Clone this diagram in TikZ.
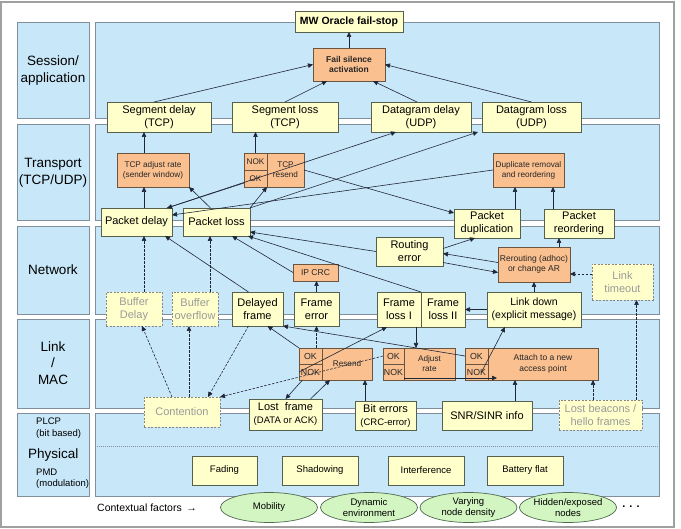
\documentclass[tikz,border=0pt]{standalone}
\usepackage{fontspec}
\setmainfont{Liberation Sans}
\usetikzlibrary{positioning,arrows.meta,shapes.geometric}

\definecolor{layerblue}{HTML}{C8E7F8}
\definecolor{layerline}{HTML}{7F8F9C}
\definecolor{boxyellow}{HTML}{FFFFCC}
\definecolor{boxline}{HTML}{55604F}
\definecolor{actorange}{HTML}{FAC090}
\definecolor{actline}{HTML}{6B5540}
\definecolor{ghostline}{HTML}{858585}
\definecolor{ghosttext}{HTML}{9A9A9A}
\definecolor{factorgreen}{HTML}{D2F5C2}
\definecolor{factorline}{HTML}{4F6A4F}
\definecolor{arrowline}{HTML}{1E2636}
\definecolor{framegray}{HTML}{A0A0A0}

\newcommand{\boxfont}{\fontsize{11}{13}\selectfont}
\newcommand{\actfont}{\fontsize{8.2}{10}\selectfont}
\newcommand{\cellfont}{\fontsize{8.8}{10}\selectfont}
\newcommand{\layerfont}{\fontsize{13.5}{16.5}\selectfont}
\newcommand{\physfont}{\fontsize{9.5}{11.5}\selectfont}

\begin{document}
\begin{tikzpicture}[
    x=1pt, y=-1pt,
    wh/.style 2 args={minimum width=#1, minimum height=#2},
    box/.style={
        draw=boxline,
        fill=boxyellow,
        rectangle,
        line width=0.7pt,
        inner sep=0pt,
        outer sep=0pt,
        align=center,
        font=\boxfont
    },
    act/.style={box, draw=actline, fill=actorange, text=black!85, font=\actfont},
    cell/.style={act, wh={23}{16}, font=\cellfont},
    ghost/.style={box, draw=ghostline, dash pattern=on 2pt off 1.5pt, text=ghosttext},
    factor/.style={
        ellipse,
        draw=factorline,
        fill=factorgreen,
        line width=0.7pt,
        minimum width=97,
        minimum height=30,
        inner sep=0pt,
        align=center,
        font=\physfont
    },
    layer/.style={draw=layerline, fill=layerblue, line width=0.8pt},
    layername/.style={align=center, inner sep=0pt, font=\layerfont},
    arrow/.style={-{Triangle[length=5pt,width=4.5pt]}, draw=arrowline, line width=0.6pt},
    dasharrow/.style={arrow, dash pattern=on 2.5pt off 1.5pt}
]

\useasboundingbox (0,0) rectangle (681,529);
\draw[framegray, line width=1.2pt] (1,2) rectangle (674,527);

% layers
\foreach \ya/\yb in {22/118, 124/220, 226/314, 319/408, 413/496} {
    \draw[layer] (17,\ya) rectangle (89,\yb);
    \draw[layer] (95,\ya) rectangle (659,\yb);
}
\draw[layerline, dash pattern=on 1pt off 1pt] (95,446) -- (659,446);

\node[layername] (lsess) at (53,70.5) {Session/\\application};
\node[layername] (ltrans) at (53,173) {Transport\\(TCP/UDP)};
\node[layername] (lnet) at (53,270) {Network};
\node[layername] (llink) at (53,363) {Link\\/\\MAC};
\node[anchor=west, align=left, inner sep=0pt, font=\physfont] (lplcp) at (36,428) {PLCP\\(bit based)};
\node[anchor=west, inner sep=0pt, font=\layerfont] (lphys) at (28,455) {Physical};
\node[anchor=west, align=left, inner sep=0pt, font=\physfont] (lpmd) at (36,478.5) {PMD\\(modulation)};

% session
\node[box, wh={108}{21}, font=\bfseries\fontsize{10.5}{12}\selectfont] (oracle) at (349,21.5) {MW Oracle fail-stop};
\node[act, wh={72}{33}, font=\bfseries\fontsize{8.5}{10}\selectfont] (fsa) at (349,64.5) {Fail silence\\activation};
\node[box, wh={104}{30}] (segdelay) at (159,117) {Segment delay\\(TCP)};
\node[box, wh={106}{30}] (segloss) at (285,117) {Segment loss\\(TCP)};
\node[box, wh={100}{30}] (dgdelay) at (421,117) {Datagram delay\\(UDP)};
\node[box, wh={99}{30}] (dgloss) at (531.5,117) {Datagram loss\\(UDP)};

% transport
\node[act, wh={72}{34}] (tcpadj) at (153,170) {TCP adjust rate\\(sender window)};
\node[act, wh={37}{34}] (tcpresend) at (285.5,170) {TCP\\resend};
\node[cell, wh={23}{17}, font=\actfont, anchor=south east] (trnok) at (tcpresend.west) {NOK};
\node[cell, wh={23}{17}, font=\actfont, anchor=north east] (trok) at (tcpresend.west) {OK};
\node[act, wh={71}{34}] (dupl) at (528.5,170) {Duplicate removal\\and reordering};
\node[box, wh={71}{28}] (pdelay) at (136.5,222) {Packet delay};
\node[box, wh={67}{28}] (ploss) at (216.5,222) {Packet loss};
\node[box, wh={66}{29}] (pdup) at (487,223.5) {Packet\\duplication};
\node[box, wh={70}{29}] (preord) at (579,223.5) {Packet\\reordering};

% network
\node[box, wh={67}{29}] (routerr) at (409.5,251.5) {Routing\\error};
\node[act, wh={72}{35}, font=\fontsize{8.5}{10.5}\selectfont] (rerout) at (534,264.5) {Rerouting (adhoc)\\or change AR};
\node[ghost, wh={61}{36}] (linkto) at (622.5,282) {Link\\timeout};
\node[act, wh={45}{17}, font=\fontsize{8.5}{10}\selectfont] (ipcrc) at (315.5,272.5) {IP CRC};
\node[ghost, wh={56}{34}] (bufdelay) at (134,309) {Buffer\\Delay};
\node[ghost, wh={46}{34}] (bufover) at (195,309) {Buffer\\overflow};
\node[box, wh={51}{34}] (delframe) at (257.5,309) {Delayed\\frame};
\node[box, wh={45}{34}] (frerr) at (316.5,309) {Frame\\error};
\node[box, wh={44}{35}] (floss1) at (399,309.5) {Frame\\loss I};
\node[box, wh={44}{35}, right=0pt of floss1] (floss2) {Frame\\loss II};
\node[box, wh={94}{35}, font=\fontsize{10.5}{12.5}\selectfont] (linkdown) at (534,309.5) {Link down\\(explicit message)};

% link
\node[act, wh={50}{32}] (resend) at (347,364) {Resend};
\node[cell, anchor=south east] (rsok) at (resend.west) {OK};
\node[cell, anchor=north east] (rsnok) at (resend.west) {NOK};
\node[act, wh={51}{32}] (adjrate) at (429.5,364) {Adjust\\rate};
\node[cell, wh={21}{16}, anchor=south east] (adok) at (adjrate.west) {OK};
\node[cell, wh={21}{16}, anchor=north east] (adnok) at (adjrate.west) {NOK};
\node[act, wh={110}{32}, font=\fontsize{8.5}{10.5}\selectfont] (attach) at (543,364) {Attach to a new\\access point};
\node[cell, anchor=south east] (atok) at (attach.west) {OK};
\node[cell, anchor=north east] (atnok) at (attach.west) {NOK};
\node[ghost, wh={76}{30}] (contention) at (182,412) {Contention};
\node[box, wh={73}{31}] (lostframe) at (285.5,414.5) {Lost~~frame\\{\physfont(DATA or ACK)}};
\node[box, wh={61}{29}] (biterr) at (385.5,415.5) {Bit errors\\{\physfont(CRC-error)}};
\node[box, wh={90}{29}] (snr) at (487,415.5) {SNR/SINR info};
\node[ghost, wh={83}{30}] (lostbeacon) at (600.5,415) {Lost beacons /\\hello frames};

% physical
\node[box, wh={65}{29}, font=\physfont] (fading) at (224.5,470.5) {Fading};
\node[box, wh={76}{29}, font=\physfont] (shadow) at (320,470.5) {Shadowing};
\node[box, wh={76}{29}, font=\physfont] (interf) at (426,470.5) {Interference};
\node[box, wh={76}{29}, font=\physfont] (battery) at (525,470.5) {Battery flat};

% contextual factors
\node[anchor=west, inner sep=0pt, font=\fontsize{10.5}{12}\selectfont] (ctx) at (97,508) {Contextual factors \,→};
\node[factor] (mobility) at (269,507.5) {Mobility};
\node[factor] (dynenv) at (369,507.5) {Dynamic\\environment};
\node[factor] (density) at (468.5,507.5) {Varying\\node density};
\node[factor] (hidden) at (568,507.5) {Hidden/exposed\\nodes};
\node[font=\bfseries\boxfont] (more) at (631,507) {. . .};

% session arrows
\draw[arrow] (fsa.north) -- (oracle.south);
\draw[arrow] ([xshift=-5pt]segdelay.north) -- (fsa.west);
\draw[arrow] (segloss.north) -- ([xshift=14pt]fsa.south west);
\draw[arrow] ([xshift=-4pt]dgdelay.north) -- ([xshift=-12pt]fsa.south east);
\draw[arrow] (dgloss.north) -- (fsa.east);

% transport arrows
\draw[arrow] ([xshift=-9pt]tcpadj.north) -- ([xshift=-9pt]tcpadj.north |- segdelay.south);
\draw[arrow] ([xshift=7.5pt]pdelay.north) -- ([xshift=7.5pt]pdelay.north |- tcpadj.south);
\draw[arrow] ([xshift=-6pt]ploss.north) -- (tcpadj.south east);
\draw[arrow] (trnok.north) -- (trnok.north |- segloss.south);
\draw[arrow] (ploss.north east) -- (trok.south east);
\draw[arrow] ([yshift=-4.5pt]trok.west) -- ([xshift=-5pt]pdelay.north east);
\draw[arrow] ([xshift=-5pt]pdelay.north east) -- ([xshift=25pt]dgdelay.south west);
\draw[arrow] (ploss.north east) -- ([xshift=-4pt]dgloss.south west);
\draw[arrow] (tcpresend.east) -- ([yshift=-4pt]pdup.north west);
\draw[arrow] (dupl.west) -- ([yshift=-7pt]pdelay.north east);
\draw[arrow] ([xshift=28pt]pdup.north) -- ([xshift=28pt]pdup.north |- dupl.south);
\draw[arrow] ([xshift=-26pt]preord.north) -- ([xshift=-26pt]preord.north |- dupl.south);

% network arrows
\draw[dasharrow] ([xshift=10pt]bufdelay.north) -- ([xshift=10pt]bufdelay.north |- pdelay.south);
\draw[arrow] ([xshift=-9pt]delframe.north) -- ([xshift=-7pt]pdelay.south east);
\draw[dasharrow] ([xshift=15pt]bufover.north) -- ([xshift=15pt]bufover.north |- ploss.south);
\draw[arrow] (ipcrc.west) -- ([xshift=-18pt]ploss.south east);
\draw[arrow] (floss1.north east) -- ([xshift=-2pt]ploss.south east);
\draw[arrow] (routerr.west) -- ([yshift=4pt]ploss.south east);
\draw[arrow] ([yshift=3pt]routerr.east) -- ([xshift=-12pt]pdup.south);
\draw[arrow] ([yshift=2pt]rerout.west) -- ([yshift=-2pt]routerr.east);
\draw[arrow] ([yshift=-11pt]routerr.east) -- ([yshift=-8pt]rerout.west);
\draw[arrow] ([xshift=25pt]rerout.north) -- ([xshift=25pt]rerout.north |- preord.south);
\draw[dasharrow] ([yshift=8pt]linkto.west) -- ([yshift=8pt]linkto.west -| rerout.east);
\draw[arrow] (linkdown.north) -- (rerout.south);
\draw[arrow] (linkdown.west) -- (floss2.east);
\draw[arrow] (frerr.north) -- (frerr.north |- ipcrc.south);
\draw[dasharrow] ([xshift=36pt]lostbeacon.north) -- ([xshift=36pt]lostbeacon.north |- linkto.south);

% link arrows
\draw[arrow] (rsok.north west) -- ([xshift=10pt]delframe.south);
\draw[dasharrow] ([xshift=6pt]rsok.north) -- ([xshift=6pt]rsok.north |- frerr.south);
\draw[arrow] (rsnok.west) -- ([xshift=-12pt]floss1.south);
\draw[arrow] ([xshift=-8pt]rsnok.south) -- (lostframe.north);
\draw[arrow] ([xshift=25pt]lostframe.north) -- ([xshift=8pt]resend.south west);
\draw[arrow] ([xshift=-20.5pt]biterr.north) -- ([xshift=-20.5pt]biterr.north |- resend.south);
\draw[arrow] ([xshift=17pt]floss1.south) -- ([xshift=17pt]floss1.south |- adjrate.north);
\draw[arrow] (atok.west) -- (delframe.south east);
\draw[arrow] ([xshift=5pt]atnok.center) -- ([xshift=-29pt]linkdown.south);
\draw[arrow] ([xshift=28pt]snr.north) -- ([xshift=28pt]snr.north |- attach.south);
\draw[dasharrow] ([xshift=-7.5pt]lostbeacon.north) -- ([xshift=-7.5pt]lostbeacon.north |- attach.south);
\draw[arrow] ([yshift=2pt]adjrate.south west) -- ([xshift=9pt,yshift=2pt]attach.south west);
\draw[dasharrow] ([xshift=-10pt]contention.north) -- ([xshift=8pt]bufdelay.south);
\draw[dasharrow] ([xshift=7pt]contention.north) -- ([xshift=7pt]contention.north |- bufover.south);
\draw[dasharrow] ([xshift=-9pt]delframe.south) -- ([xshift=26pt]contention.north);
\draw[dasharrow] (adok.west) -- (contention.north east);

\end{tikzpicture}
\end{document}
